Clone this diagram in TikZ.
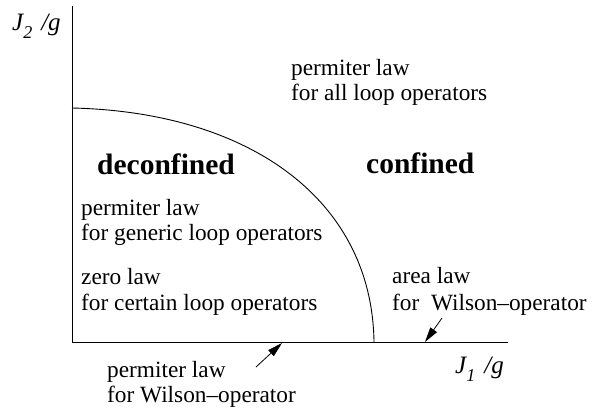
\documentclass[tikz,border=0pt]{standalone}
\usepackage{fontspec}
\setmainfont{Liberation Serif}
\usetikzlibrary{arrows.meta}
\newcommand{\mysub}[1]{\raisebox{-0.32em}{\fontsize{18}{18}\selectfont\itshape #1}}
\begin{document}
\begin{tikzpicture}[x=1pt,y=-1pt,
  lbl/.style={anchor=base west,inner sep=0pt,font=\fontsize{23.3}{28}\selectfont},
  reg/.style={anchor=base west,inner sep=0pt,font=\fontsize{29.5}{34}\selectfont\bfseries},
  axl/.style={anchor=base west,inner sep=0pt,font=\fontsize{25}{28}\selectfont},
  ax/.style={line width=0.9pt},
  pointer/.style={line width=0.8pt,-{Triangle[length=15pt,width=8pt]}}]
\useasboundingbox (0,0) rectangle (601,407);
% axes
\coordinate (O) at (72,342);
\coordinate (ytop) at (72,6);
\coordinate (xend) at (508,342);
\draw[ax] (ytop) -- (O) -- (xend);
% phase boundary
\coordinate (c0) at (72,108);
\coordinate (c1) at (374,342);
\draw[line width=0.9pt] (c0) .. controls (250,112) and (372,200) .. (c1);
% axis labels
\node[axl] (j2) at (12,30) {\itshape J\mysub{2}\hspace{9pt}/g};
\node[axl] (j1) at (455,373) {\itshape J\mysub{1}\hspace{9pt}/g};
% texts
\node[lbl] (t1a) at (291,75) {permiter law};
\node[lbl] (t1b) at (291,100) {for all loop operators};
\node[reg] (dec) at (97,174) {deconfined};
\node[reg] (con) at (366,173) {confined};
\node[lbl] (t2a) at (81,215) {permiter law};
\node[lbl] (t2b) at (81,240) {for generic loop operators};
\node[lbl] (t3a) at (81,284) {zero law};
\node[lbl] (t3b) at (81,310) {for certain loop operators};
\node[lbl] (t4a) at (392,283) {area law};
\node[lbl] (t4b) at (392,310) {for\ \ Wilson{\char"2013}operator};
\node[lbl] (t5a) at (107,377) {permiter law};
\node[lbl] (t5b) at (107,402) {for Wilson{\char"2013}operator};
% pointers
\coordinate (p1s) at (256,367);
\coordinate (p1e) at (282,343);
\coordinate (p2s) at (442,318);
\coordinate (p2e) at (425,342);
\draw[pointer] (p1s) -- (p1e);
\draw[pointer] (p2s) -- (p2e);
\end{tikzpicture}
\end{document}
